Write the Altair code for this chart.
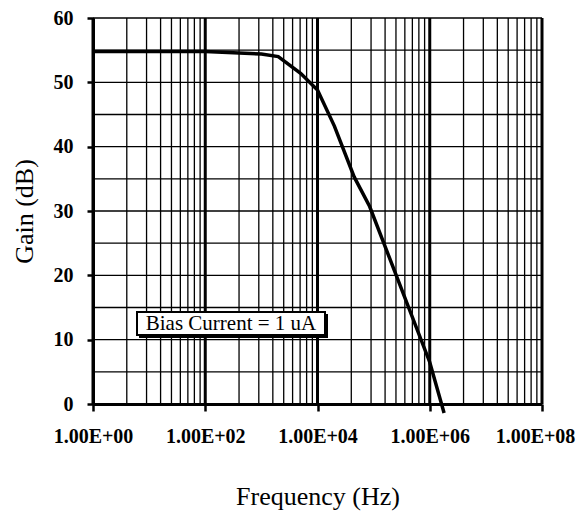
import altair as alt
import pandas as pd

# Series data
freq = [1, 10, 100, 1000, 2000, 5000, 1e4, 2e4, 4.5e4, 8.5e4, 1e6, 1.8e6]
gain = [54.8, 54.8, 54.8, 54.4, 54.0, 51.4, 48.8, 43.2, 35.3, 30.7, 6.5, -1.4]
series_name = "Bias Current = 1 uA"

# Axis / grid values
x_major = [1, 1e2, 1e4, 1e6, 1e8]
x_minor = [k * k * 100 ** n for n in range(4) for k in range(2, 10)]
y_ticks = [0, 10, 20, 30, 40, 50, 60]
y_grid = [0, 5, 10, 15, 20, 25, 30, 35, 40, 45, 50, 55, 60]

FONT = "Liberation Serif"

xscale = alt.Scale(type="log", domain=[1, 1e8], nice=False)
yscale = alt.Scale(domain=[0, 60], nice=False)

xaxis = alt.Axis(
    values=x_major, grid=False, title="Frequency (Hz)",
    labelExpr="'1.00E+' + (round(log(datum.value)/LN10) < 10 ? '0' : '') + format(round(log(datum.value)/LN10), 'd')",
    labelFont=FONT, labelFontSize=20, labelFontWeight="bold", labelColor="black",
    labelOffset={"condition": {"test": "datum.value >= 1e8", "value": -7}, "value": 0},
    labelPadding=15, tickSize=7, tickWidth=2.5, tickColor="black",
    domainColor="black", domainWidth=3,
    titleFont=FONT, titleFontSize=26, titleFontWeight="normal", titleColor="black",
    titlePadding=37, labelFlush=False,
)
yaxis = alt.Axis(
    values=y_ticks, grid=False, title="Gain (dB)",
    labelFont=FONT, labelFontSize=20, labelFontWeight="bold", labelColor="black",
    labelPadding=14, tickSize=6, tickWidth=2.5, tickColor="black",
    domainColor="black", domainWidth=3,
    titleFont=FONT, titleFontSize=26, titleFontWeight="normal", titleColor="black",
    titleX=-56, titleY=193, titleBaseline="bottom", titleAngle=270,
)

hgrid = alt.Chart(pd.DataFrame({"gain": y_grid})).mark_rule(
    color="black", strokeWidth=1.3
).encode(y=alt.Y("gain:Q", scale=yscale, axis=yaxis))

vminor = alt.Chart(pd.DataFrame({"freq": x_minor})).mark_rule(
    color="black", strokeWidth=1.3
).encode(x=alt.X("freq:Q", scale=xscale, axis=xaxis))

vmajor = alt.Chart(pd.DataFrame({"freq": x_major})).mark_rule(
    color="black", strokeWidth=3
).encode(x=alt.X("freq:Q", scale=xscale, axis=xaxis))

line = alt.Chart(pd.DataFrame({"freq": freq, "gain": gain})).mark_line(
    strokeWidth=3.5, color="black"
).encode(
    x=alt.X("freq:Q", scale=xscale, axis=xaxis),
    y=alt.Y("gain:Q", scale=yscale, axis=yaxis),
)

# Legend-style label box
label_df = pd.DataFrame({"label": [series_name]})
box_shadow = alt.Chart(label_df).mark_rect(color="black").encode(
    x=alt.value(46), x2=alt.value(235), y=alt.value(296), y2=alt.value(320)
)
box = alt.Chart(label_df).mark_rect(fill="white", stroke="black", strokeWidth=2).encode(
    x=alt.value(44), x2=alt.value(232), y=alt.value(294), y2=alt.value(317)
)
box_text = alt.Chart(label_df).mark_text(
    font=FONT, fontSize=21, color="black", align="center", baseline="middle"
).encode(text="label:N", x=alt.value(138), y=alt.value(306))

chart = alt.layer(hgrid, vminor, vmajor, line, box_shadow, box, box_text).properties(
    width=449, height=386,
    autosize=alt.AutoSizeParams(type="none"),
    padding={"left": 85, "top": 10, "right": 36, "bottom": 109},
).configure_view(strokeWidth=0)

chart.save("out.html", embed_options={"renderer": "svg", "actions": False})
